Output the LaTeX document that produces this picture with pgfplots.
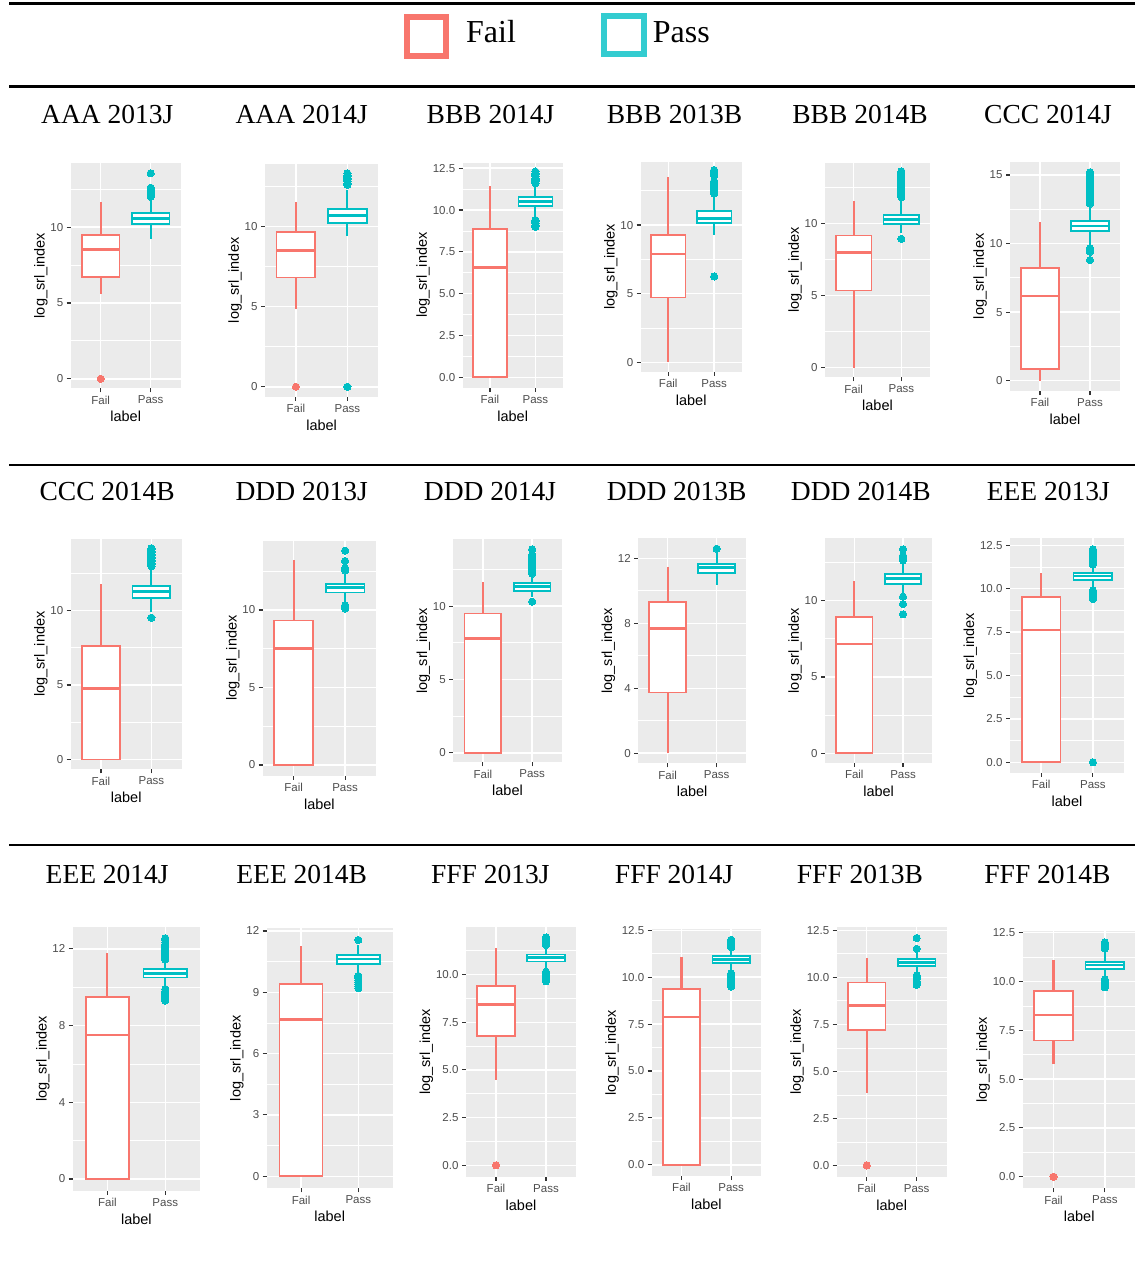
\documentclass[border=0pt]{standalone}
\usepackage{fontspec}
\setmainfont{Liberation Sans}
\newfontfamily\titlefont{Liberation Serif}
\usepackage{pgfplots}
\pgfplotsset{compat=1.18}
\usepgfplotslibrary{statistics}

\definecolor{cFail}{HTML}{F8766D}
\definecolor{cPass}{HTML}{00BFC4}
\definecolor{panelgray}{HTML}{EBEBEB}
\definecolor{ticktext}{HTML}{4D4D4D}
\definecolor{tickmark}{HTML}{333333}

\pgfplotsset{
  gg/.style={
    scale only axis, anchor=south west, clip=false,
    xmin=0.4, xmax=2.6,
    xtick={1,2}, xticklabels={Fail,Pass},
    axis background/.style={fill=panelgray},
    axis line style={draw=none},
    tick pos=left, tick align=outside,
    major tick length=4pt, minor tick length=0pt,
    tick style={draw=tickmark, line width=1.1pt},
    xmajorgrids, ymajorgrids, yminorgrids,
    major grid style={draw=white, line width=1.5pt},
    minor grid style={draw=white, line width=0.75pt},
    ticklabel style={font=\fontsize{11.5}{12}\selectfont, text=ticktext},
    label style={font=\fontsize{14.5}{15}\selectfont, text=black},
    xlabel={label}, ylabel={log\_srl\_index},
    ylabel shift=-4pt,
    /pgf/number format/assume math mode=true,
    boxplot/draw direction=y,
    boxplot/box extend=0.75,
    boxplot/whisker extend=0,
  },
  halfticks/.style={ytick={0,2.5,5,7.5,10,12.5},
    yticklabels={0.0,2.5,5.0,7.5,10.0,12.5},
    minor ytick={1.25,3.75,6.25,8.75,11.25}},
  fiveticks/.style={ytick={0,5,10}, minor ytick={2.5,7.5,12.5}},
  boxlook/.style={line width=1.7pt, mark=*, mark size=3.6pt,
    boxplot/every box/.style={fill=white, line width=1.7pt},
    boxplot/every whisker/.style={line width=2.1pt},
    boxplot/every median/.style={line width=2.7pt}},
  fail/.style={cFail, boxlook,
    mark options={fill=cFail, draw=cFail, line width=0pt}},
  pass/.style={cPass, boxlook,
    mark options={fill=cPass, draw=cPass, line width=0pt}},
  bx/.style n args={6}{boxplot prepared={draw position=#1,
    lower whisker=#2, lower quartile=#3, median=#4,
    upper quartile=#5, upper whisker=#6}},
}

\begin{document}
\begin{tikzpicture}
\path[use as bounding box] (0pt,0pt) rectangle (1135pt,-1262pt);

% rules and legend
\draw[line width=3pt] (9pt,-3.2pt) -- (1135pt,-3.2pt);
\draw[line width=3pt] (9pt,-86.3pt) -- (1135pt,-86.3pt);
\draw[line width=1.2pt] (9pt,-465pt) -- (1135pt,-465pt);
\draw[line width=1.2pt] (9pt,-845pt) -- (1135pt,-845pt);
\draw[cFail, line width=6pt] (407pt,-17pt) rectangle (445.7pt,-55.7pt);
\draw[cPass!80!white, line width=6pt] (604.3pt,-16.3pt) rectangle (643.7pt,-54.3pt);
\node[anchor=base west, inner sep=0pt, font=\titlefont\fontsize{32}{32}\selectfont] at (466pt,-42.7pt) {Fail};
\node[anchor=base west, inner sep=0pt, font=\titlefont\fontsize{32}{32}\selectfont] at (652.7pt,-42.7pt) {Pass};

% panel titles
\tikzset{ttl/.style={anchor=base, inner sep=0pt, font=\titlefont\fontsize{27.5}{28}\selectfont}}
\node[ttl] at (107.3pt,-123.3pt) {AAA 2013J};
\node[ttl] at (301.7pt,-123.3pt) {AAA 2014J};
\node[ttl] at (490.5pt,-123.3pt) {BBB 2014J};
\node[ttl] at (674.5pt,-123.3pt) {BBB 2013B};
\node[ttl] at (860pt,-123.3pt) {BBB 2014B};
\node[ttl] at (1048pt,-123.3pt) {CCC 2014J};
\node[ttl] at (107.2pt,-500pt) {CCC 2014B};
\node[ttl] at (301.7pt,-500pt) {DDD 2013J};
\node[ttl] at (490pt,-500pt) {DDD 2014J};
\node[ttl] at (676.7pt,-500pt) {DDD 2013B};
\node[ttl] at (860.8pt,-500pt) {DDD 2014B};
\node[ttl] at (1048.3pt,-500pt) {EEE 2013J};
\node[ttl] at (107.2pt,-883.3pt) {EEE 2014J};
\node[ttl] at (301.7pt,-883.3pt) {EEE 2014B};
\node[ttl] at (490.3pt,-883.3pt) {FFF 2013J};
\node[ttl] at (674.2pt,-883.3pt) {FFF 2014J};
\node[ttl] at (860pt,-883.3pt) {FFF 2013B};
\node[ttl] at (1047.5pt,-883.3pt) {FFF 2014B};

% ---------------- row 1 ----------------
\begin{axis}[gg, at={(70.7pt,-388.3pt)}, width=110pt, height=225.6pt,
  ymin=-0.63, ymax=14.25, fiveticks]
\addplot[fail, bx={1}{5.62}{6.71}{8.51}{9.47}{11.67}] coordinates {(0,0)};
\addplot[pass, bx={2}{9.24}{10.22}{10.55}{10.95}{11.95}] coordinates {
  (0,12.0)(0,12.1)(0,12.2)(0,12.3)(0,12.4)(0,12.5)(0,12.6)(0,13.55)};
\end{axis}

\begin{axis}[gg, at={(265pt,-396.7pt)}, width=113.3pt, height=232.7pt,
  ymin=-0.62, ymax=13.89, fiveticks]
\addplot[fail, bx={1}{4.85}{6.82}{8.48}{9.63}{11.54}] coordinates {(0,0)};
\addplot[pass, bx={2}{9.40}{10.23}{10.67}{11.08}{12.27}] coordinates {
  (0,12.6)(0,12.7)(0,12.8)(0,12.9)(0,13.0)(0,13.1)(0,13.2)(0,13.3)(0,0)};
\end{axis}

\begin{axis}[gg, at={(462.7pt,-387.7pt)}, width=100pt, height=225pt,
  ymin=-0.62, ymax=12.83, halfticks]
\addplot[fail, bx={1}{0}{0}{6.58}{8.85}{11.46}] coordinates {};
\addplot[pass, bx={2}{9.55}{10.25}{10.51}{10.77}{11.5}] coordinates {
  (0,11.6)(0,11.7)(0,11.8)(0,11.9)(0,12.0)(0,12.1)(0,12.2)(0,12.3)
  (0,9.0)(0,9.1)(0,9.2)(0,9.3)(0,9.4)};
\end{axis}

\begin{axis}[gg, at={(640.7pt,-371.7pt)}, width=101pt, height=209.7pt,
  ymin=-0.68, ymax=14.59, fiveticks]
\addplot[fail, bx={1}{0}{4.73}{7.89}{9.25}{13.47}] coordinates {};
\addplot[pass, bx={2}{9.27}{10.13}{10.49}{11.0}{12.1}] coordinates {
  (0,12.3)(0,12.4)(0,12.5)(0,12.6)(0,12.7)(0,12.8)(0,12.9)(0,13.0)(0,13.1)(0,13.2)
  (0,13.6)(0,13.7)(0,13.8)(0,13.9)(0,14.0)(0,6.26)};
\end{axis}

\begin{axis}[gg, at={(825pt,-377.3pt)}, width=105pt, height=214.6pt,
  ymin=-0.67, ymax=14.2, fiveticks]
\addplot[fail, bx={1}{0}{5.34}{7.99}{9.15}{11.55}] coordinates {};
\addplot[pass, bx={2}{9.31}{9.96}{10.26}{10.56}{11.7}] coordinates {
  (0,11.8)(0,11.9)(0,12.0)(0,12.1)(0,12.2)(0,12.3)(0,12.4)(0,12.5)(0,12.6)(0,12.7)
  (0,12.8)(0,12.9)(0,13.0)(0,13.1)(0,13.2)(0,13.3)(0,13.4)(0,13.5)(0,13.6)(0,8.92)};
\end{axis}

\begin{axis}[gg, at={(1010pt,-391pt)}, width=110pt, height=229.3pt,
  ymin=-0.75, ymax=15.97, ytick={0,5,10,15}, minor ytick={2.5,7.5,12.5}]
\addplot[fail, bx={1}{0}{0.85}{6.18}{8.24}{11.55}] coordinates {};
\addplot[pass, bx={2}{9.9}{10.92}{11.28}{11.67}{12.8}] coordinates {
  (0,12.9)(0,13.0)(0,13.1)(0,13.2)(0,13.3)(0,13.4)(0,13.5)(0,13.6)(0,13.7)(0,13.8)
  (0,13.9)(0,14.0)(0,14.1)(0,14.2)(0,14.3)(0,14.4)(0,14.5)(0,14.6)(0,14.7)(0,14.8)
  (0,14.9)(0,15.0)(0,15.1)(0,15.2)(0,9.65)(0,9.5)(0,9.4)(0,8.8)};
\end{axis}

% ---------------- row 2 ----------------
\begin{axis}[gg, at={(70.7pt,-769.3pt)}, width=111pt, height=230.3pt,
  ymin=-0.67, ymax=14.82, fiveticks]
\addplot[fail, bx={1}{0}{0}{4.78}{7.62}{11.8}] coordinates {};
\addplot[pass, bx={2}{9.93}{10.85}{11.28}{11.68}{12.9}] coordinates {
  (0,13.0)(0,13.1)(0,13.2)(0,13.3)(0,13.4)(0,13.5)(0,13.6)(0,13.7)(0,13.8)(0,13.9)
  (0,14.0)(0,14.1)(0,14.2)(0,9.53)};
\end{axis}

\begin{axis}[gg, at={(262.7pt,-775.7pt)}, width=113.3pt, height=235pt,
  ymin=-0.69, ymax=14.47, fiveticks]
\addplot[fail, bx={1}{0}{0}{7.53}{9.33}{13.23}] coordinates {};
\addplot[pass, bx={2}{10.54}{11.12}{11.44}{11.68}{12.3}] coordinates {
  (0,12.55)(0,12.7)(0,13.16)(0,13.83)(0,10.3)(0,10.2)(0,10.1)};
\end{axis}

\begin{axis}[gg, at={(453.3pt,-762.3pt)}, width=108.4pt, height=223pt,
  ymin=-0.65, ymax=14.55, fiveticks]
\addplot[fail, bx={1}{0}{0}{7.8}{9.5}{11.62}] coordinates {};
\addplot[pass, bx={2}{10.6}{11.05}{11.32}{11.59}{12.1}] coordinates {
  (0,12.2)(0,12.3)(0,12.4)(0,12.5)(0,12.6)(0,12.7)(0,12.8)(0,12.9)(0,13.0)(0,13.1)
  (0,13.2)(0,13.3)(0,13.4)(0,13.5)(0,13.87)(0,10.3)};
\end{axis}

\begin{axis}[gg, at={(638.3pt,-763.3pt)}, width=107.7pt, height=225pt,
  ymin=-0.62, ymax=13.23, ytick={0,4,8,12}, minor ytick={2,6,10}]
\addplot[fail, bx={1}{0}{3.73}{7.67}{9.29}{11.48}] coordinates {};
\addplot[pass, bx={2}{10.36}{11.1}{11.42}{11.63}{12.3}] coordinates {(0,12.59)};
\end{axis}

\begin{axis}[gg, at={(825pt,-762.7pt)}, width=107.3pt, height=224.4pt,
  ymin=-0.62, ymax=14.09, fiveticks]
\addplot[fail, bx={1}{0}{0}{7.16}{8.95}{11.29}] coordinates {};
\addplot[pass, bx={2}{10.4}{11.1}{11.47}{11.73}{12.5}] coordinates {
  (0,12.65)(0,12.75)(0,12.85)(0,12.95)(0,13.37)(0,10.26)(0,9.78)(0,9.11)};
\end{axis}

\begin{axis}[gg, at={(1010pt,-772.7pt)}, width=114pt, height=234.4pt,
  ymin=-0.6, ymax=12.9, halfticks]
\addplot[fail, bx={1}{0}{0}{7.62}{9.52}{10.92}] coordinates {};
\addplot[pass, bx={2}{10.0}{10.5}{10.73}{10.89}{11.3}] coordinates {
  (0,11.4)(0,11.5)(0,11.6)(0,11.7)(0,11.8)(0,11.9)(0,12.0)(0,12.1)(0,12.2)(0,12.27)
  (0,9.4)(0,9.5)(0,9.6)(0,9.7)(0,9.8)(0,9.9)(0,0)};
\end{axis}

% ---------------- row 3 ----------------
\begin{axis}[gg, at={(72.7pt,-1190.7pt)}, width=127.3pt, height=263.4pt,
  ymin=-0.61, ymax=13.12, ytick={0,4,8,12}, minor ytick={2,6,10}]
\addplot[fail, bx={1}{0}{0}{7.5}{9.48}{11.79}] coordinates {};
\addplot[pass, bx={2}{10.02}{10.51}{10.72}{10.93}{11.35}] coordinates {
  (0,11.45)(0,11.55)(0,11.65)(0,11.75)(0,11.85)(0,11.95)(0,12.05)(0,12.15)(0,12.25)
  (0,12.35)(0,12.45)(0,12.55)
  (0,9.3)(0,9.4)(0,9.5)(0,9.6)(0,9.7)(0,9.8)(0,9.9)};
\end{axis}

\begin{axis}[gg, at={(266.7pt,-1188.3pt)}, width=126pt, height=260pt,
  ymin=-0.59, ymax=12.13, ytick={0,3,6,9,12}, minor ytick={1.5,4.5,7.5,10.5}]
\addplot[fail, bx={1}{0}{0}{7.68}{9.41}{11.28}] coordinates {};
\addplot[pass, bx={2}{9.93}{10.39}{10.63}{10.83}{11.3}] coordinates {
  (0,11.56)(0,9.2)(0,9.3)(0,9.4)(0,9.5)(0,9.6)(0,9.7)(0,9.8)};
\end{axis}

\begin{axis}[gg, at={(466pt,-1176.7pt)}, width=110pt, height=249.4pt,
  ymin=-0.6, ymax=12.48, ytick={0,2.5,5,7.5,10},
  yticklabels={0.0,2.5,5.0,7.5,10.0}, minor ytick={1.25,3.75,6.25,8.75,11.25}]
\addplot[fail, bx={1}{4.49}{6.77}{8.42}{9.4}{11.37}] coordinates {(0,0)};
\addplot[pass, bx={2}{10.25}{10.68}{10.89}{11.05}{11.45}] coordinates {
  (0,11.55)(0,11.65)(0,11.75)(0,11.85)(0,11.95)
  (0,9.65)(0,9.75)(0,9.85)(0,9.95)(0,10.05)(0,10.15)};
\end{axis}

\begin{axis}[gg, at={(651.7pt,-1176pt)}, width=109.3pt, height=247pt,
  ymin=-0.6, ymax=12.57, halfticks]
\addplot[fail, bx={1}{0}{0}{7.88}{9.37}{11.06}] coordinates {};
\addplot[pass, bx={2}{10.3}{10.77}{10.95}{11.13}{11.5}] coordinates {
  (0,11.6)(0,11.7)(0,11.8)(0,11.9)(0,12.0)
  (0,9.5)(0,9.6)(0,9.7)(0,9.8)(0,9.9)(0,10.0)(0,10.1)(0,10.2)};
\end{axis}

\begin{axis}[gg, at={(836.7pt,-1176.7pt)}, width=110pt, height=249.4pt,
  ymin=-0.6, ymax=12.66, halfticks]
\addplot[fail, bx={1}{3.86}{7.2}{8.51}{9.73}{11.04}] coordinates {(0,0)};
\addplot[pass, bx={2}{10.25}{10.62}{10.78}{10.97}{11.3}] coordinates {
  (0,11.52)(0,12.09)(0,9.6)(0,9.7)(0,9.8)(0,9.9)(0,10.0)(0,10.1)};
\end{axis}

\begin{axis}[gg, at={(1022.7pt,-1188.4pt)}, width=113pt, height=257.7pt,
  ymin=-0.6, ymax=12.6, halfticks]
\addplot[fail, bx={1}{5.76}{6.97}{8.28}{9.53}{11.1}] coordinates {(0,0)};
\addplot[pass, bx={2}{10.25}{10.64}{10.84}{11.01}{11.55}] coordinates {
  (0,11.7)(0,11.8)(0,11.9)(0,12.0)(0,9.7)(0,9.8)(0,9.9)(0,10.0)(0,10.1)};
\end{axis}

\end{tikzpicture}
\end{document}
